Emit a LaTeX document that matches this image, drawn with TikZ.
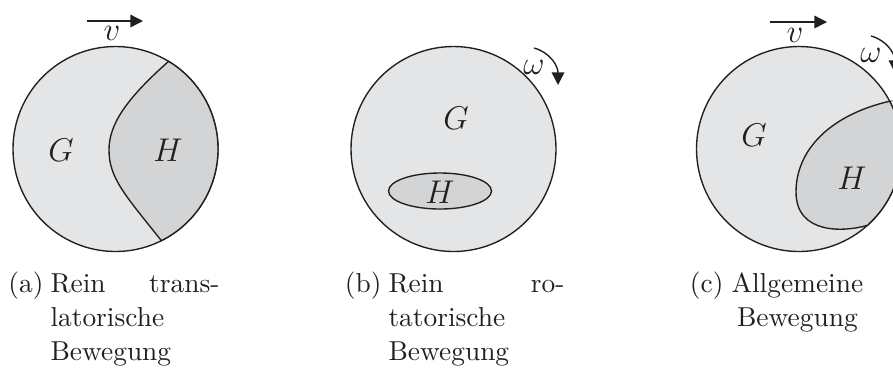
\documentclass[tikz,border=0pt]{standalone}
\usetikzlibrary{arrows.meta,calc}
\definecolor{bodyG}{HTML}{E4E5E7}
\definecolor{bodyH}{HTML}{D3D4D6}
\definecolor{ink}{HTML}{231F20}
\begin{document}
\begin{tikzpicture}[x=0.365pt,y=0.365pt,
  body/.style={fill=bodyG,draw=ink,line width=0.5pt},
  part/.style={fill=bodyH,draw=ink,line width=0.5pt},
  mlabel/.style={inner sep=0pt,font=\large,text=ink},
  captxt/.style={inner sep=0pt,anchor=base west,text=ink},
  captxtr/.style={inner sep=0pt,anchor=base east,text=ink},
  motion/.style={draw=ink,line width=0.5pt,-{Triangle[length=4.6pt,width=4.6pt]}},
]
\useasboundingbox (0,0) rectangle (893,-367);

% ---------- (a) ----------
\coordinate (Ca) at (115.5,-149);
\path[body] (Ca) circle[radius=102.5];
\coordinate (Ta) at ($(Ca)+(58.8:102.5)$);
\coordinate (La) at (109,-150);
\coordinate (Ba) at ($(Ca)+(-63.4:102.5)$);
\path[part] (Ta) .. controls (125,-100) and (109,-125) .. (La)
  .. controls (109,-178) and (125,-195) .. (Ba)
  arc[start angle=-63.4,end angle=58.8,radius=102.5] -- cycle;
\node[mlabel] (Ga) at (61,-150) {$G$};
\node[mlabel] (Ha) at (168,-150) {$H$};
\coordinate (va0) at (87,-21);
\coordinate (va1) at (143,-21);
\draw[motion] (va0) -- (va1);
\node[mlabel] (va) at (112,-33) {$v$};
\node[captxtr] (capa) at (44,-292) {(a)};
\node[captxt] (a1) at (50,-292) {Rein};
\node[captxtr] (a2) at (220,-292) {trans-};
\node[captxt] (a3) at (50,-326) {latorische};
\node[captxt] (a4) at (50,-360) {Bewegung};

% ---------- (b) ----------
\coordinate (Cb) at (453.5,-149);
\path[body] (Cb) circle[radius=102.5];
\coordinate (Eb) at (440,-191);
\path[part] (Eb) ellipse[x radius=51.5,y radius=18];
\node[mlabel] (Gb) at (456,-118) {$G$};
\node[mlabel] (Hb) at (440,-192) {$H$};
\coordinate (wb0) at (534,-48);
\coordinate (wb1) at (558,-85);
\draw[motion] (wb0) .. controls (549,-52) and (558,-65) .. (wb1);
\node[mlabel] (wb) at (534,-67) {$\omega$};
\node[captxtr] (capb) at (382,-292) {(b)};
\node[captxt] (b1) at (388,-292) {Rein};
\node[captxtr] (b2) at (565,-292) {ro-};
\node[captxt] (b3) at (388,-326) {tatorische};
\node[captxt] (b4) at (388,-360) {Bewegung};

% ---------- (c) ----------
\coordinate (Cc) at (799,-149);
\path[body] (Cc) circle[radius=102.5];
\coordinate (Pc1) at ($(Cc)+(27.8:102.5)$);
\coordinate (Lc) at (796,-192);
\coordinate (Pc2) at ($(Cc)+(-48.1:102.5)$);
\path[part] (Pc1) .. controls (830,-115) and (796,-150) .. (Lc)
  .. controls (796,-235) and (845,-232) .. (Pc2)
  arc[start angle=-48.1,end angle=27.8,radius=102.5] -- cycle;
\node[mlabel] (Gc) at (754,-135) {$G$};
\node[mlabel] (Hc) at (852,-178) {$H$};
\coordinate (vc0) at (770,-22);
\coordinate (vc1) at (827,-22);
\draw[motion] (vc0) -- (vc1);
\node[mlabel] (vc) at (795,-35) {$v$};
\coordinate (wc0) at (871,-36);
\coordinate (wc1) at (895,-73);
\draw[motion] (wc0) .. controls (886,-40) and (895,-53) .. (wc1);
\node[mlabel] (wc) at (871,-55) {$\omega$};
\node[captxtr] (capc) at (724,-292) {(c)};
\node[captxt] (c1) at (731,-292) {Allgemeine};
\node[inner sep=0pt,anchor=base,text=ink] (c2) at ($(c1.base)+(0,-34)$) {Bewegung};
\end{tikzpicture}
\end{document}
